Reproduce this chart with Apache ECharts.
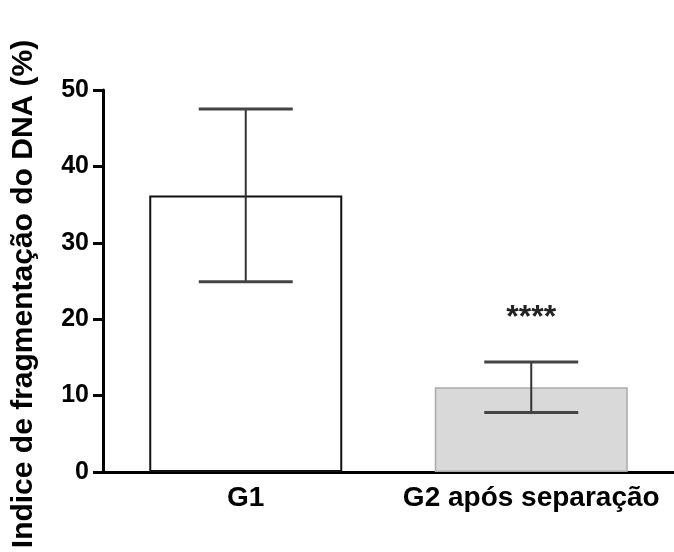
<!DOCTYPE html>
<html>
<head>
<meta charset="utf-8">
<script src="https://cdn.jsdelivr.net/npm/echarts@6/dist/echarts.min.js"></script>
<style>
  html, body { margin: 0; padding: 0; background: #fff; }
  #chart { width: 674px; height: 552px; }
</style>
</head>
<body>
<div id="chart"></div>
<script>
// data
var categories = ['G1', 'G2 após separação'];
var means = [36.2, 11.1];
var sd = [11.3, 3.3];
var significance = ['', '****'];
var barColors = ['#ffffff', '#d9d9d9'];
var barBorders = ['#111111', '#aaaaaa'];

var FONT = 'Liberation Sans, Arial, sans-serif';
var chart = echarts.init(document.getElementById('chart'));

var errData = means.map(function (m, i) { return [i, m - sd[i], m + sd[i]]; });

chart.setOption({
  animation: false,
  grid: { left: 103, right: -8, top: 90, bottom: 80 },
  xAxis: {
    type: 'category',
    data: categories,
    axisLine: { lineStyle: { color: '#000', width: 3 } },
    axisTick: { alignWithLabel: true, length: 10, lineStyle: { color: '#000', width: 3 } },
    axisLabel: {
      interval: 0,
      color: '#000', fontSize: 28, fontWeight: 'bold',
      fontFamily: FONT, margin: 12
    }
  },
  yAxis: {
    type: 'value',
    min: 0, max: 50, interval: 10,
    name: 'Indice de fragmentação do DNA (%)',
    nameLocation: 'middle',
    nameGap: 64,
    nameTextStyle: {
      color: '#000', fontSize: 30, fontWeight: 'bold',
      fontFamily: FONT, padding: [0, 26, 0, 0]
    },
    splitLine: { show: false },
    axisLine: { show: true, lineStyle: { color: '#000', width: 3 } },
    axisTick: { show: true, length: 10, lineStyle: { color: '#000', width: 3 } },
    axisLabel: {
      color: '#000', fontSize: 25, fontWeight: 'bold',
      fontFamily: FONT, margin: 14
    }
  },
  series: [
    {
      type: 'bar',
      barWidth: 193,
      data: means.map(function (v, i) {
        return {
          value: v,
          itemStyle: { color: barColors[i], borderColor: barBorders[i], borderWidth: i === 0 ? 2 : 1.5 }
        };
      })
    },
    {
      type: 'custom',
      data: errData,
      z: 10,
      renderItem: function (params, api) {
        var i = api.value(0);
        var lo = api.coord([i, api.value(1)]);
        var hi = api.coord([i, api.value(2)]);
        var half = 47;
        var style = { stroke: '#333', lineWidth: 2 };
        var children = [
          { type: 'line', shape: { x1: hi[0], y1: hi[1], x2: lo[0], y2: lo[1] }, style: style },
          { type: 'line', shape: { x1: hi[0] - half, y1: hi[1], x2: hi[0] + half, y2: hi[1] }, style: { stroke: '#444', lineWidth: 3 } },
          { type: 'line', shape: { x1: lo[0] - half, y1: lo[1], x2: lo[0] + half, y2: lo[1] }, style: { stroke: '#444', lineWidth: 3 } }
        ];
        if (significance[i]) {
          children.push({
            type: 'text',
            style: {
              x: hi[0], y: hi[1] - 44, text: significance[i],
              fill: '#222', fontSize: 32, fontWeight: 'bold', fontFamily: FONT,
              align: 'center', verticalAlign: 'middle'
            }
          });
        }
        return { type: 'group', children: children };
      }
    }
  ]
});
</script>
</body>
</html>
